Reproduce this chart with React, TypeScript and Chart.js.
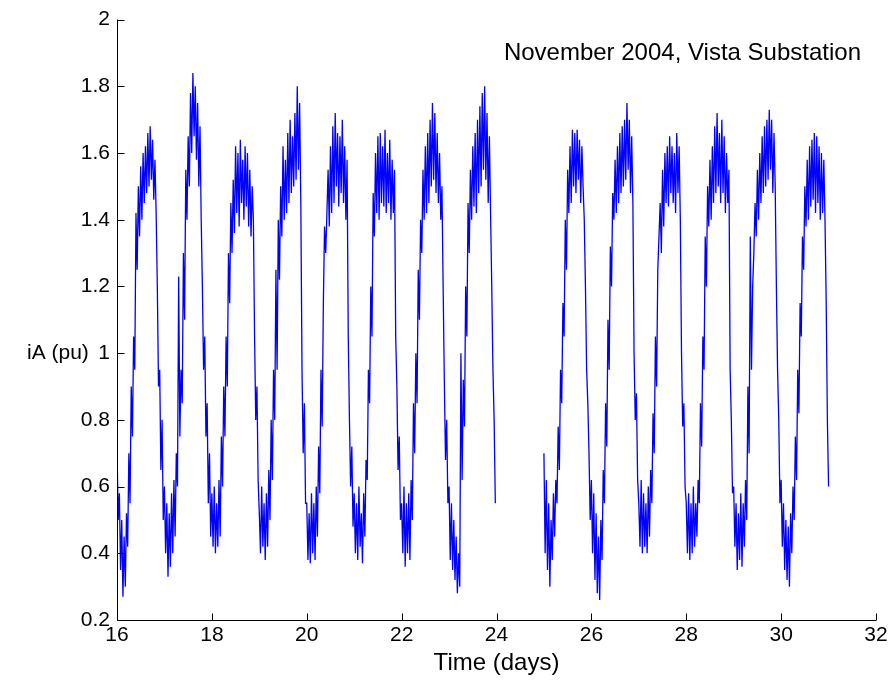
import React, { useEffect, useRef } from "react";
import { Chart, registerables } from "chart.js";

Chart.register(...registerables);

// Sampling step inside each day (days)
const DAY_STEP = 0.025;

// Phase-A current (pu), 40 samples per day
const day16 = [0.72, 0.50, 0.58, 0.35, 0.50, 0.27, 0.45, 0.30, 0.52, 0.42, 0.70, 0.55, 0.90, 0.75, 1.05, 0.95, 1.42, 1.25, 1.50, 1.35, 1.56, 1.40, 1.60, 1.45, 1.62, 1.48, 1.66, 1.50, 1.68, 1.52, 1.64, 1.46, 1.58, 1.42, 1.20, 0.90, 0.95, 0.65, 0.80, 0.50];
const day17 = [0.60, 0.40, 0.55, 0.33, 0.52, 0.36, 0.58, 0.40, 0.62, 0.45, 0.70, 0.60, 1.23, 0.75, 0.95, 0.85, 1.30, 1.10, 1.55, 1.40, 1.65, 1.50, 1.78, 1.60, 1.84, 1.65, 1.80, 1.58, 1.75, 1.50, 1.68, 1.40, 1.20, 0.95, 1.05, 0.75, 0.85, 0.55, 0.70, 0.45];
const day18 = [0.58, 0.42, 0.60, 0.40, 0.55, 0.42, 0.62, 0.45, 0.75, 0.60, 0.90, 0.75, 1.05, 0.90, 1.30, 1.15, 1.45, 1.30, 1.52, 1.36, 1.62, 1.42, 1.60, 1.38, 1.64, 1.45, 1.58, 1.40, 1.62, 1.44, 1.60, 1.38, 1.55, 1.35, 1.50, 1.40, 1.05, 0.80, 0.90, 0.62];
const day19 = [0.52, 0.40, 0.60, 0.42, 0.55, 0.38, 0.58, 0.42, 0.65, 0.50, 0.80, 0.62, 0.95, 0.80, 1.25, 0.95, 1.40, 1.22, 1.50, 1.35, 1.62, 1.40, 1.58, 1.42, 1.66, 1.45, 1.70, 1.48, 1.65, 1.50, 1.72, 1.52, 1.80, 1.55, 1.75, 1.45, 0.95, 0.70, 0.85, 0.55];
const day20 = [0.55, 0.38, 0.52, 0.37, 0.58, 0.40, 0.55, 0.38, 0.60, 0.45, 0.72, 0.58, 0.95, 0.78, 1.15, 1.38, 1.30, 1.42, 1.55, 1.38, 1.62, 1.42, 1.68, 1.45, 1.72, 1.50, 1.66, 1.44, 1.65, 1.48, 1.70, 1.45, 1.62, 1.40, 1.58, 1.05, 0.80, 0.60, 0.72, 0.48];
const day21 = [0.58, 0.40, 0.55, 0.38, 0.60, 0.42, 0.52, 0.37, 0.58, 0.45, 0.68, 0.62, 0.95, 0.85, 1.20, 1.05, 1.48, 1.35, 1.60, 1.42, 1.65, 1.40, 1.66, 1.45, 1.62, 1.44, 1.67, 1.42, 1.60, 1.45, 1.64, 1.40, 1.58, 1.42, 1.55, 1.05, 0.90, 0.65, 0.75, 0.50];
const day22 = [0.55, 0.40, 0.60, 0.36, 0.55, 0.40, 0.58, 0.38, 0.62, 0.50, 0.85, 0.70, 1.00, 0.85, 1.25, 1.10, 1.40, 1.30, 1.55, 1.40, 1.62, 1.42, 1.66, 1.45, 1.70, 1.50, 1.75, 1.52, 1.72, 1.48, 1.66, 1.45, 1.60, 1.40, 1.50, 1.20, 0.92, 0.68, 0.80, 0.55];
const day23 = [0.60, 0.38, 0.55, 0.35, 0.50, 0.32, 0.45, 0.28, 0.40, 0.30, 1.00, 0.62, 0.92, 0.78, 1.20, 1.05, 1.45, 1.30, 1.55, 1.40, 1.62, 1.44, 1.66, 1.42, 1.70, 1.48, 1.74, 1.50, 1.78, 1.55, 1.80, 1.52, 1.72, 1.45, 1.65, 1.42, 1.20, 0.95, 0.80, 0.55];
const day25 = [0.70, 0.40, 0.62, 0.35, 0.55, 0.30, 0.50, 0.38, 0.58, 0.45, 0.62, 0.55, 0.78, 0.65, 0.95, 0.85, 1.15, 1.05, 1.40, 1.25, 1.55, 1.42, 1.62, 1.45, 1.67, 1.50, 1.66, 1.48, 1.67, 1.52, 1.64, 1.45, 1.62, 1.50, 1.40, 1.20, 0.95, 0.85, 0.70, 0.50];
const day26 = [0.62, 0.40, 0.58, 0.32, 0.52, 0.28, 0.45, 0.26, 0.50, 0.38, 0.65, 0.55, 0.85, 0.72, 1.10, 0.95, 1.32, 1.20, 1.48, 1.40, 1.58, 1.42, 1.62, 1.45, 1.66, 1.48, 1.68, 1.50, 1.70, 1.52, 1.75, 1.55, 1.70, 1.48, 1.65, 1.45, 1.00, 0.80, 0.88, 0.62];
const day27 = [0.55, 0.42, 0.62, 0.40, 0.58, 0.42, 0.55, 0.40, 0.60, 0.45, 0.65, 0.55, 0.82, 0.70, 1.05, 0.90, 1.25, 1.35, 1.45, 1.30, 1.55, 1.38, 1.60, 1.45, 1.62, 1.44, 1.65, 1.48, 1.62, 1.45, 1.60, 1.42, 1.66, 1.48, 1.62, 1.40, 1.00, 0.78, 0.85, 0.60];
const day28 = [0.55, 0.40, 0.58, 0.38, 0.55, 0.40, 0.60, 0.42, 0.55, 0.45, 0.62, 0.55, 0.85, 0.72, 1.05, 0.95, 1.35, 1.20, 1.50, 1.38, 1.58, 1.40, 1.62, 1.45, 1.68, 1.48, 1.72, 1.50, 1.66, 1.45, 1.70, 1.48, 1.65, 1.42, 1.60, 1.45, 1.55, 0.95, 0.80, 0.58];
const day29 = [0.60, 0.42, 0.55, 0.35, 0.52, 0.38, 0.58, 0.36, 0.55, 0.42, 0.62, 0.50, 0.90, 0.70, 1.35, 0.95, 1.20, 1.30, 1.45, 1.35, 1.55, 1.40, 1.60, 1.45, 1.65, 1.48, 1.68, 1.50, 1.70, 1.52, 1.73, 1.55, 1.70, 1.48, 1.66, 1.50, 1.20, 0.95, 0.80, 0.55];
const day30 = [0.62, 0.42, 0.55, 0.35, 0.50, 0.32, 0.48, 0.30, 0.52, 0.40, 0.60, 0.50, 0.75, 0.62, 0.95, 0.82, 1.15, 1.05, 1.35, 1.25, 1.50, 1.38, 1.58, 1.40, 1.62, 1.44, 1.64, 1.46, 1.66, 1.42, 1.65, 1.45, 1.62, 1.40, 1.60, 1.42, 1.58, 1.40, 1.15, 0.80];
const day31 = [0.60];

// Continuous recording runs: first day and the day arrays that follow it
const runA = { start: 16, days: [day16, day17, day18, day19, day20, day21, day22, day23] };
const runB = { start: 25, days: [day25, day26, day27, day28, day29, day30, day31] };
const runs = [runA, runB];

// Axes
const xTicks = [16, 18, 20, 22, 24, 26, 28, 30, 32];
const yTicks = [0.2, 0.4, 0.6, 0.8, 1, 1.2, 1.4, 1.6, 1.8, 2];
const xTitle = "Time (days)";
const yTitle = "iA (pu)";
const plotTitle = "November 2004, Vista Substation";

const FONT_FAMILY = "'Liberation Sans', Arial, Helvetica, sans-serif";
const FONT_SIZE = 21;
const TITLE_SIZE = 24;

function buildPoints() {
  const pts: { x: number; y: number | null }[] = [];
  runs.forEach((run) => {
    let lastX = run.start;
    run.days.forEach((vals, d) => {
      vals.forEach((v, i) => {
        lastX = run.start + d + i * DAY_STEP;
        pts.push({ x: lastX, y: v });
      });
    });
    pts.push({ x: lastX + DAY_STEP / 2, y: null });
  });
  return pts;
}

const matlabAxes = {
  id: "matlabAxes",
  afterDraw(chart: any) {
    const { ctx, chartArea: a, scales } = chart;
    const x = scales.x;
    const y = scales.y;
    ctx.save();
    ctx.strokeStyle = "#000";
    ctx.lineWidth = 1;
    ctx.beginPath();
    const L = Math.round(a.left) + 0.5;
    const B = Math.round(a.bottom) + 0.5;
    ctx.moveTo(L, a.top);
    ctx.lineTo(L, B);
    ctx.lineTo(a.right, B);
    ctx.stroke();
    ctx.beginPath();
    xTicks.forEach((v) => {
      const px = Math.round(x.getPixelForValue(v)) + 0.5;
      ctx.moveTo(px, B);
      ctx.lineTo(px, B - 7);
    });
    yTicks.forEach((v) => {
      const py = Math.round(y.getPixelForValue(v)) + 0.5;
      ctx.moveTo(L, py);
      ctx.lineTo(L + 7, py);
    });
    ctx.stroke();

    ctx.fillStyle = "#000";
    ctx.font = `${FONT_SIZE}px ${FONT_FAMILY}`;
    ctx.textBaseline = "middle";
    ctx.textAlign = "left";
    ctx.fillText(yTitle, 27, y.getPixelForValue(1));
    ctx.font = `${TITLE_SIZE}px ${FONT_FAMILY}`;
    ctx.textAlign = "right";
    ctx.fillText(plotTitle, 861, 53);
    ctx.textAlign = "center";
    ctx.fillText(xTitle, (a.left + a.right) / 2, 663);
    ctx.restore();
  },
};

export default function App() {
  const canvasRef = useRef<HTMLCanvasElement | null>(null);

  useEffect(() => {
    document.body.style.margin = "0";
    const canvas = canvasRef.current;
    if (!canvas) return;
    const chart = new Chart(canvas, {
      type: "line",
      data: {
        datasets: [
          {
            data: buildPoints() as any,
            borderColor: "#0000ff",
            borderWidth: 1.3,
            pointRadius: 0,
            tension: 0,
            spanGaps: false,
            fill: false,
          },
        ],
      },
      options: {
        responsive: false,
        animation: false,
        events: [],
        layout: { padding: { left: 0, right: 20, top: 17, bottom: 0 } },
        plugins: {
          legend: { display: false },
          tooltip: { enabled: false },
          title: { display: false },
        },
        scales: {
          x: {
            type: "linear",
            min: 16,
            max: 32,
            grid: { display: false, drawTicks: false },
            border: { display: false },
            afterFit: (s: any) => {
              s.height = 63;
            },
            afterBuildTicks: (s: any) => {
              s.ticks = xTicks.map((v) => ({ value: v }));
            },
            ticks: {
              color: "#000",
              font: { family: FONT_FAMILY, size: FONT_SIZE },
              padding: 3,
              maxRotation: 0,
              autoSkip: false,
              callback: (v: any) => String(v),
            },
            title: { display: false },
          },
          y: {
            type: "linear",
            min: 0.2,
            max: 2,
            grid: { display: false, drawTicks: false },
            border: { display: false },
            afterFit: (s: any) => {
              s.width = 117;
            },
            afterBuildTicks: (s: any) => {
              s.ticks = yTicks.map((v) => ({ value: v }));
            },
            ticks: {
              color: "#000",
              font: { family: FONT_FAMILY, size: FONT_SIZE },
              padding: 7,
              autoSkip: false,
              callback: (v: any) => String(Number(Number(v).toFixed(1))),
            },
          },
        },
      },
      plugins: [matlabAxes],
    });
    return () => chart.destroy();
  }, []);

  return (
    <div style={{ width: 896, height: 683 }}>
      <canvas ref={canvasRef} width={896} height={683} style={{ display: "block" }} />
    </div>
  );
}
